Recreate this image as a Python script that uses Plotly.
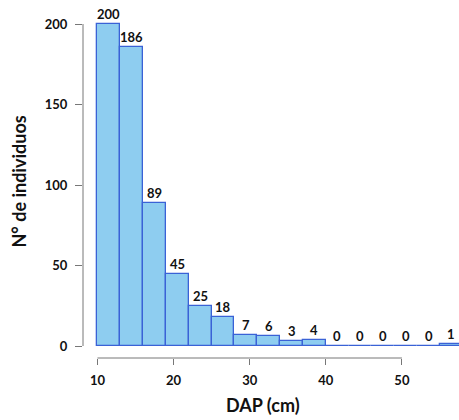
import plotly.graph_objects as go

bin_left = [10, 13, 16, 19, 22, 25, 28, 31, 34, 37, 40, 43, 46, 49, 52, 55]
bin_width = 3
counts = [200, 186, 89, 45, 25, 18, 7, 6, 3, 4, 0, 0, 0, 0, 0, 1]
x_ticks = [10, 20, 30, 40, 50]
y_ticks = [0, 50, 100, 150, 200]
x_title = "DAP (cm)"
y_title = "N° de individuos"

centers = [b + bin_width / 2 for b in bin_left]

font_family = "Lato, Open Sans, sans-serif"
W, H = 459, 420
L, R, T, B = 83, 0, 10, 62

fig = go.Figure(go.Bar(
    x=centers,
    y=counts,
    width=[bin_width] * len(counts),
    marker=dict(color="#8ECDF0", line=dict(color="#3A62D6", width=1.3)),
    hoverinfo="skip",
))

# count labels above each bar
for xc, c in zip(centers, counts):
    fig.add_annotation(x=xc, y=c, text=str(c), showarrow=False, yanchor="bottom", yshift=0,
                       font=dict(family=font_family, size=13, color="#111111", weight="bold"))

fig.update_layout(
    width=W, height=H,
    margin=dict(l=L, r=R, t=T, b=B),
    plot_bgcolor="white", paper_bgcolor="white",
    showlegend=False,
    bargap=0,
    xaxis=dict(
        range=[8.1, 57.5], tickvals=x_ticks, ticks="outside", ticklen=6,
        tickcolor="#777777", showline=False, showgrid=False, zeroline=False,
        automargin=False, ticklabelstandoff=4,
        tickfont=dict(family=font_family, size=13, color="#111111", weight="bold"),
    ),
    yaxis=dict(
        range=[-7.45, 208.7], tickvals=y_ticks, ticks="outside", ticklen=7,
        tickcolor="#777777", showline=False, showgrid=False, zeroline=False,
        automargin=False, ticklabelstandoff=5,
        tickfont=dict(family=font_family, size=13, color="#111111", weight="bold"),
    ),
)

# axis titles placed as text in paper space
plot_w = W - L - R
plot_h = H - T - B
fig.add_annotation(xref="paper", yref="paper", x=(263 - L) / plot_w, y=-(405 - (H - B)) / plot_h,
                   text=x_title, showarrow=False, xanchor="center", yanchor="middle",
                   font=dict(family=font_family, size=18, color="#111111", weight="bold"))
fig.add_annotation(xref="paper", yref="paper", x=-(L - 18.5) / plot_w, y=((H - B) - 182) / plot_h,
                   text=y_title, showarrow=False, textangle=-90, xanchor="center", yanchor="middle",
                   font=dict(family=font_family, size=18, color="#111111", weight="bold"))

# detached axis lines (R-style), spanning first to last tick
fig.add_shape(type="line", xref="x", yref="paper", x0=x_ticks[0], x1=x_ticks[-1], y0=0, y1=0,
              line=dict(color="#777777", width=1))
fig.add_shape(type="line", xref="paper", yref="y", x0=0, x1=0, y0=y_ticks[0], y1=y_ticks[-1],
              line=dict(color="#777777", width=1))

fig.write_html("out.html",
               config={"displayModeBar": False},
               post_script="document.body.style.margin='0';document.body.style.overflow='hidden';")
